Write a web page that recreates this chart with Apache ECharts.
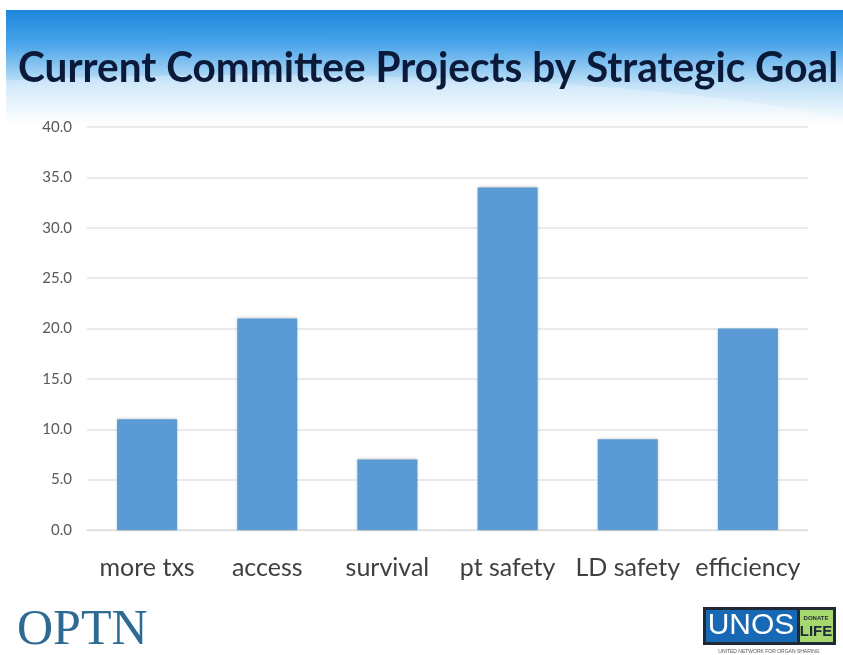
<!DOCTYPE html>
<html><head><meta charset="utf-8">
<script src="https://cdn.jsdelivr.net/npm/echarts@6/dist/echarts.min.js"></script>
<style>html,body{margin:0;padding:0;background:#fff}#c{width:843px;height:655px}</style>
</head><body><div id="c"></div>
<script>
const categories = ['more txs', 'access', 'survival', 'pt safety', 'LD safety', 'efficiency'];
const projects = [11, 21, 7, 34, 9, 20];
const yTicks = {min: 0, max: 40, interval: 5};
const titleText = 'Current Committee Projects by Strategic Goal';

const chart = echarts.init(document.getElementById('c'));
chart.setOption({
  animation: false,
  backgroundColor: '#fff',
  grid: {left: 87, right: 35, top: 127, bottom: 125, containLabel: false},
  xAxis: {
    type: 'category', data: categories,
    axisLine: {show: true, lineStyle: {color: '#d9d9d9'}},
    axisTick: {show: false},
    axisLabel: {interval: 0, fontFamily: 'Lato', fontSize: 25, color: '#404040', margin: 25}
  },
  yAxis: {
    type: 'value', min: yTicks.min, max: yTicks.max, interval: yTicks.interval,
    axisLine: {show: false}, axisTick: {show: false},
    splitLine: {lineStyle: {color: '#e3e3e3', width: 1.5}},
    axisLabel: {fontFamily: 'Lato', fontSize: 15, color: '#595959', margin: 15,
      formatter: v => v.toFixed(1)}
  },
  series: [{
    type: 'bar', data: projects, barWidth: '50%',
    itemStyle: {color: '#5b9bd5', shadowColor: 'rgba(0,0,0,0.25)', shadowBlur: 3}
  }],
  graphic: [
    {type: 'rect', z: -10, shape: {x: 6, y: 10, width: 837, height: 115},
     style: {fill: new echarts.graphic.LinearGradient(0, 0, 0, 1, [
       {offset: 0, color: '#1d86da'}, {offset: 0.3, color: '#4aa5ea'},
       {offset: 0.65, color: '#bddff7'}, {offset: 1, color: '#ffffff'}])}},
    {type: 'ellipse', z: -9, shape: {cx: 250, cy: 150, rx: 650, ry: 75},
     style: {fill: 'rgba(255,255,255,0.25)', shadowBlur: 30, shadowColor: 'rgba(255,255,255,0.6)'}},
    {type: 'text', z: 10, x: 18, y: 68, scaleX: 0.965,
     style: {text: titleText, font: 'bold 42px Lato', fill: '#0b1a38', textVerticalAlign: 'middle'}},
    {type: 'text', x: 17, y: 631,
     style: {text: 'OPTN', font: '50px "Liberation Serif"', fill: '#2d6b92', textVerticalAlign: 'middle'}},
    {type: 'group', x: 703, y: 607, children: [
      {type: 'rect', shape: {x: 0, y: 0, width: 133, height: 38}, style: {fill: '#1f2a36'}},
      {type: 'rect', shape: {x: 3, y: 3, width: 91, height: 32}, style: {fill: '#1769b5'}},
      {type: 'rect', shape: {x: 97, y: 3, width: 33, height: 32}, style: {fill: '#a6d86e'}},
      {type: 'text', x: 48, y: 19, style: {text: 'UNOS', font: '30px "Liberation Sans Narrow", "Liberation Sans"', fill: '#fff', textAlign: 'center', textVerticalAlign: 'middle'}},
      {type: 'text', x: 113, y: 11, style: {text: 'DONATE', font: 'bold 6px "Liberation Sans"', fill: '#1f2a36', textAlign: 'center', textVerticalAlign: 'middle'}},
      {type: 'text', x: 113, y: 25, style: {text: 'LIFE', font: 'bold 15px "Liberation Sans"', fill: '#1f2a36', textAlign: 'center', textVerticalAlign: 'middle'}},
      {type: 'text', x: 66, y: 45, style: {text: 'UNITED NETWORK FOR ORGAN SHARING', font: '5px "Liberation Sans"', fill: '#555', textAlign: 'center', textVerticalAlign: 'middle'}}
    ]}
  ]
});
</script></body></html>
